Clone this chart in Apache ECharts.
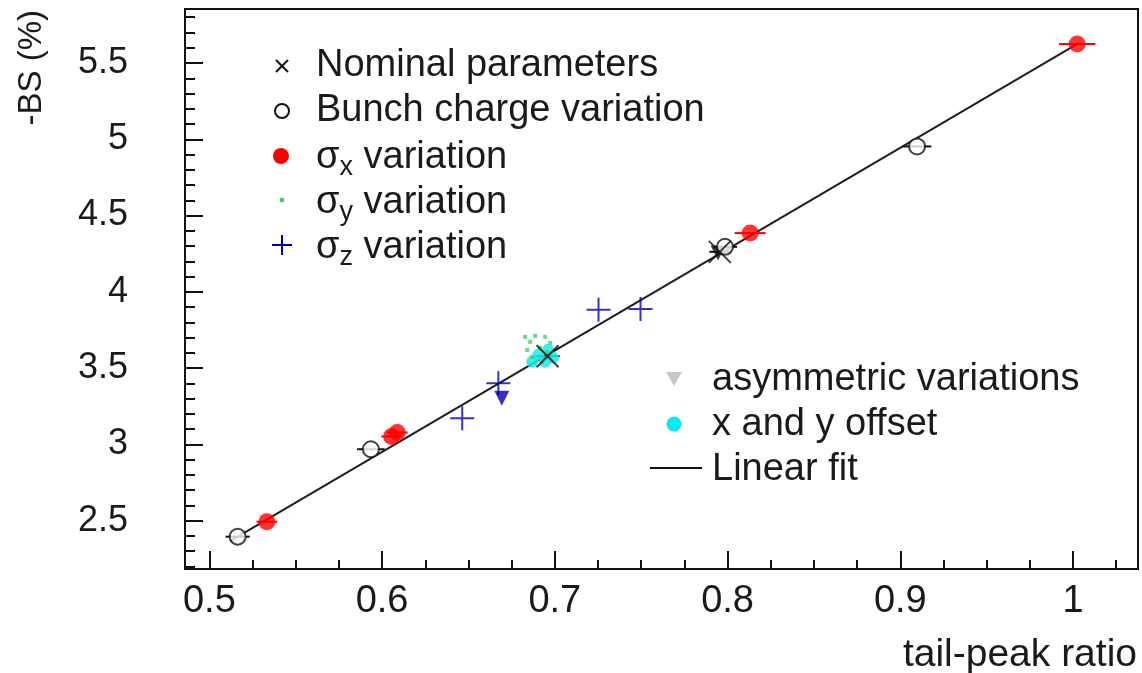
<!DOCTYPE html>
<html>
<head>
<meta charset="utf-8">
<script src="https://cdn.jsdelivr.net/npm/echarts@6/dist/echarts.min.js"></script>
<style>
  html, body { margin: 0; padding: 0; background: #ffffff; }
  #chart { width: 1142px; height: 673px; }
</style>
</head>
<body>
<div id="chart"></div>
<script>
// Axis ranges and tick values
const xRange = [0.4859, 1.0376];
const yRange = [2.183, 5.854];
const xMajorTicks = [0.5, 0.6, 0.7, 0.8, 0.9, 1.0];
const yMajorTicks = [2.5, 3.0, 3.5, 4.0, 4.5, 5.0, 5.5];
const xMinorTicks = [];
for (let k = 21; k <= 41; k++) { if (k % 4 !== 0) xMinorTicks.push(k * 0.025); }
const yMinorTicks = [];
for (let k = 22; k <= 58; k++) { if (k % 5 !== 0) yMinorTicks.push(k / 10); }

// Measurements: [tail-peak ratio, -BS (%)]
const nominal = [[0.6958, 3.578], [0.7955, 4.262]];
const nominalErr = [0.007, 0.006];

const bunchCharge = [[0.5164, 2.395], [0.5935, 2.968], [0.7985, 4.295], [0.9097, 4.953]];
const bunchChargeErr = [0.007, 0.008, 0.007, 0.0083];

const sigmaX = [[0.5333, 2.493], [0.6055, 3.052], [0.6088, 3.078], [0.8131, 4.385], [1.0024, 5.624]];
const sigmaXErr = [0.006, 0.006, 0.006, 0.009, 0.0105];

const sigmaY = [
  [0.6828, 3.705], [0.6886, 3.711], [0.6944, 3.705], [0.6857, 3.672], [0.6973, 3.665],
  [0.6840, 3.619], [0.6915, 3.633], [0.6956, 3.606], [0.6869, 3.573], [0.6927, 3.541]
];

const sigmaZ = [[0.6464, 3.172], [0.6673, 3.401], [0.7253, 3.882], [0.7496, 3.887]];

const asymSigmaZ = [[0.6693, 3.303]];
const asymNominal = [[0.7945, 4.255]];

const xyOffset = [[0.6904, 3.587], [0.6961, 3.620], [0.6944, 3.541], [0.6869, 3.541], [0.6990, 3.567]];

const linearFit = [[0.512, 2.366], [1.003, 5.628]];

// Colours
const RED = '#ff0000';
const BLUE = '#0000b4';
const GREEN = '#3fd46a';
const CYAN = '#14ecec';
const BLACK = '#111111';

const FONT = '"Liberation Sans", Arial, Helvetica, sans-serif';

const CROSS = 'path://M0 0 L10 10 M10 0 L0 10';
const PLUS = 'path://M0 5 L10 5 M5 0 L5 10';

function fmt(v) { return String(Math.round(v * 10) / 10); }

// Horizontal error bars drawn through the axes
function errorBars(points, errs, color) {
  return {
    type: 'custom',
    silent: true,
    z: 2,
    data: points.map((p, i) => [p[0], p[1], errs[i]]),
    renderItem: function (params, api) {
      const x = api.value(0), y = api.value(1), e = api.value(2);
      const a = api.coord([x - e, y]);
      const b = api.coord([x + e, y]);
      return {
        type: 'line',
        shape: { x1: a[0], y1: a[1], x2: b[0], y2: b[1] },
        style: { stroke: color, lineWidth: 2 }
      };
    }
  };
}

const chart = echarts.init(document.getElementById('chart'), null, { renderer: 'canvas' });

const tickStyle = { color: BLACK, width: 2 };

const option = {
  animation: false,
  backgroundColor: '#ffffff',
  grid: {
    left: 185, right: 4, top: 9, bottom: 104,
    show: true, borderColor: BLACK, borderWidth: 2,
    outerBoundsMode: 'none'
  },
  xAxis: [
    {
      type: 'value', min: xRange[0], max: xRange[1], position: 'bottom',
      axisLine: { show: false }, splitLine: { show: false },
      axisTick: { show: true, inside: true, length: 18, customValues: xMajorTicks, lineStyle: tickStyle },
      axisLabel: {
        customValues: xMajorTicks, formatter: fmt, margin: 14,
        fontSize: 38, fontFamily: FONT, color: '#1a1a1a'
      }
    },
    {
      type: 'value', min: xRange[0], max: xRange[1], position: 'bottom',
      axisLine: { show: false }, splitLine: { show: false }, axisLabel: { show: false },
      axisTick: { show: true, inside: true, length: 9, customValues: xMinorTicks, lineStyle: tickStyle }
    }
  ],
  yAxis: [
    {
      type: 'value', min: yRange[0], max: yRange[1], position: 'left',
      axisLine: { show: false }, splitLine: { show: false },
      axisTick: { show: true, inside: true, length: 18, customValues: yMajorTicks, lineStyle: tickStyle },
      axisLabel: {
        customValues: yMajorTicks, formatter: fmt, margin: 57,
        fontSize: 36, fontFamily: FONT, color: '#1a1a1a'
      }
    },
    {
      type: 'value', min: yRange[0], max: yRange[1], position: 'left',
      axisLine: { show: false }, splitLine: { show: false }, axisLabel: { show: false },
      axisTick: { show: true, inside: true, length: 10, customValues: yMinorTicks, lineStyle: tickStyle }
    }
  ],
  series: [
    {
      name: 'Linear fit', type: 'line', data: linearFit, showSymbol: false, symbol: 'none',
      lineStyle: { color: '#1e1e1e', width: 2 }, z: 1, silent: true
    },
    errorBars(nominal, nominalErr, BLACK),
    errorBars(bunchCharge, bunchChargeErr, BLACK),
    errorBars(sigmaX, sigmaXErr, RED),
    {
      name: 'x and y offset', type: 'scatter', data: xyOffset, symbol: 'circle', symbolSize: 12,
      itemStyle: { color: CYAN, opacity: 0.85 }, z: 3
    },
    {
      name: 'sigma_y variation', type: 'scatter', data: sigmaY, symbol: 'rect', symbolSize: 4,
      itemStyle: { color: GREEN }, z: 4
    },
    {
      name: 'asymmetric variations (sigma_z)', type: 'scatter', data: asymSigmaZ,
      symbol: 'triangle', symbolRotate: 180, symbolSize: 15,
      itemStyle: { color: BLUE }, z: 4
    },
    {
      name: 'asymmetric variations (nominal)', type: 'scatter', data: asymNominal,
      symbol: 'triangle', symbolRotate: 180, symbolSize: 15,
      itemStyle: { color: BLACK }, z: 4
    },
    {
      name: 'Bunch charge variation', type: 'scatter', data: bunchCharge, symbol: 'circle', symbolSize: 16,
      itemStyle: { color: '#ffffff', borderColor: BLACK, borderWidth: 2 }, z: 5
    },
    {
      name: 'Nominal parameters', type: 'scatter', data: nominal, symbol: CROSS, symbolSize: 22,
      itemStyle: { color: 'transparent', borderColor: BLACK, borderWidth: 2 }, z: 6
    },
    {
      name: 'sigma_x variation', type: 'scatter', data: sigmaX, symbol: 'circle', symbolSize: 17,
      itemStyle: { color: RED }, z: 5
    },
    {
      name: 'sigma_z variation', type: 'scatter', data: sigmaZ, symbol: PLUS, symbolSize: 24,
      itemStyle: { color: 'transparent', borderColor: BLUE, borderWidth: 2 }, z: 6
    }
  ],
  graphic: []
};

// Legend blocks and axis titles
const textStyle = (txt, size, extra) => Object.assign({
  text: txt, fontSize: size, fontFamily: FONT, fill: '#1a1a1a',
  align: 'left', verticalAlign: 'middle'
}, extra || {});

const subRich = {
  sub: { fontSize: 27, fontFamily: FONT, fill: '#1a1a1a', padding: [20, 0, 0, 0] },
  m: { fontSize: 38, fontFamily: FONT, fill: '#1a1a1a' }
};

const legX = 282, legTextX = 316;
const legRows = [66, 111, 158, 203, 248];
const legend1Texts = [
  'Nominal parameters',
  'Bunch charge variation',
  '{m|σ}{sub|x}{m| variation}',
  '{m|σ}{sub|y}{m| variation}',
  '{m|σ}{sub|z}{m| variation}'
];

const g = [];
// markers of the first block
g.push({ type: 'line', shape: { x1: legX - 6, y1: legRows[0] - 6, x2: legX + 6, y2: legRows[0] + 6 }, style: { stroke: BLACK, lineWidth: 2 } });
g.push({ type: 'line', shape: { x1: legX + 6, y1: legRows[0] - 6, x2: legX - 6, y2: legRows[0] + 6 }, style: { stroke: BLACK, lineWidth: 2 } });
g.push({ type: 'circle', shape: { cx: legX, cy: legRows[1], r: 7 }, style: { fill: '#fff', stroke: BLACK, lineWidth: 2 } });
g.push({ type: 'circle', shape: { cx: legX - 1, cy: legRows[2] - 2, r: 8 }, style: { fill: RED } });
g.push({ type: 'rect', shape: { x: legX - 2, y: legRows[3] - 5, width: 4, height: 4 }, style: { fill: GREEN } });
g.push({ type: 'line', shape: { x1: legX - 10, y1: legRows[4] - 3, x2: legX + 10, y2: legRows[4] - 3 }, style: { stroke: BLUE, lineWidth: 2 } });
g.push({ type: 'line', shape: { x1: legX, y1: legRows[4] - 13, x2: legX, y2: legRows[4] + 7 }, style: { stroke: BLUE, lineWidth: 2 } });
legend1Texts.forEach((t, i) => {
  const st = textStyle(t, 38);
  if (i >= 2) st.rich = subRich;
  g.push({ type: 'text', x: legTextX, y: legRows[i], style: st, z: 10 });
});

// second block
const leg2X = 674, leg2TextX = 712;
const leg2Rows = [380, 425, 470];
g.push({ type: 'polygon', shape: { points: [[leg2X - 8, leg2Rows[0] - 8], [leg2X + 8, leg2Rows[0] - 8], [leg2X, leg2Rows[0] + 6]] }, style: { fill: '#c8c8c8' } });
g.push({ type: 'circle', shape: { cx: leg2X, cy: leg2Rows[1] - 1, r: 7.5 }, style: { fill: '#00f0f0' } });
g.push({ type: 'line', shape: { x1: 650, y1: leg2Rows[2] - 2, x2: 702, y2: leg2Rows[2] - 2 }, style: { stroke: BLACK, lineWidth: 2 } });
['asymmetric variations', 'x and y offset', 'Linear fit'].forEach((t, i) => {
  g.push({ type: 'text', x: leg2TextX, y: leg2Rows[i], style: textStyle(t, 38), z: 10 });
});

// axis titles
g.push({ type: 'text', x: 1137, y: 655, style: textStyle('tail-peak ratio', 39, { align: 'right' }) });
g.push({ type: 'text', x: 32, y: 10, rotation: Math.PI / 2, style: textStyle('-BS (%)', 33, { align: 'right' }) });

option.graphic = g;
chart.setOption(option);
</script>
</body>
</html>
